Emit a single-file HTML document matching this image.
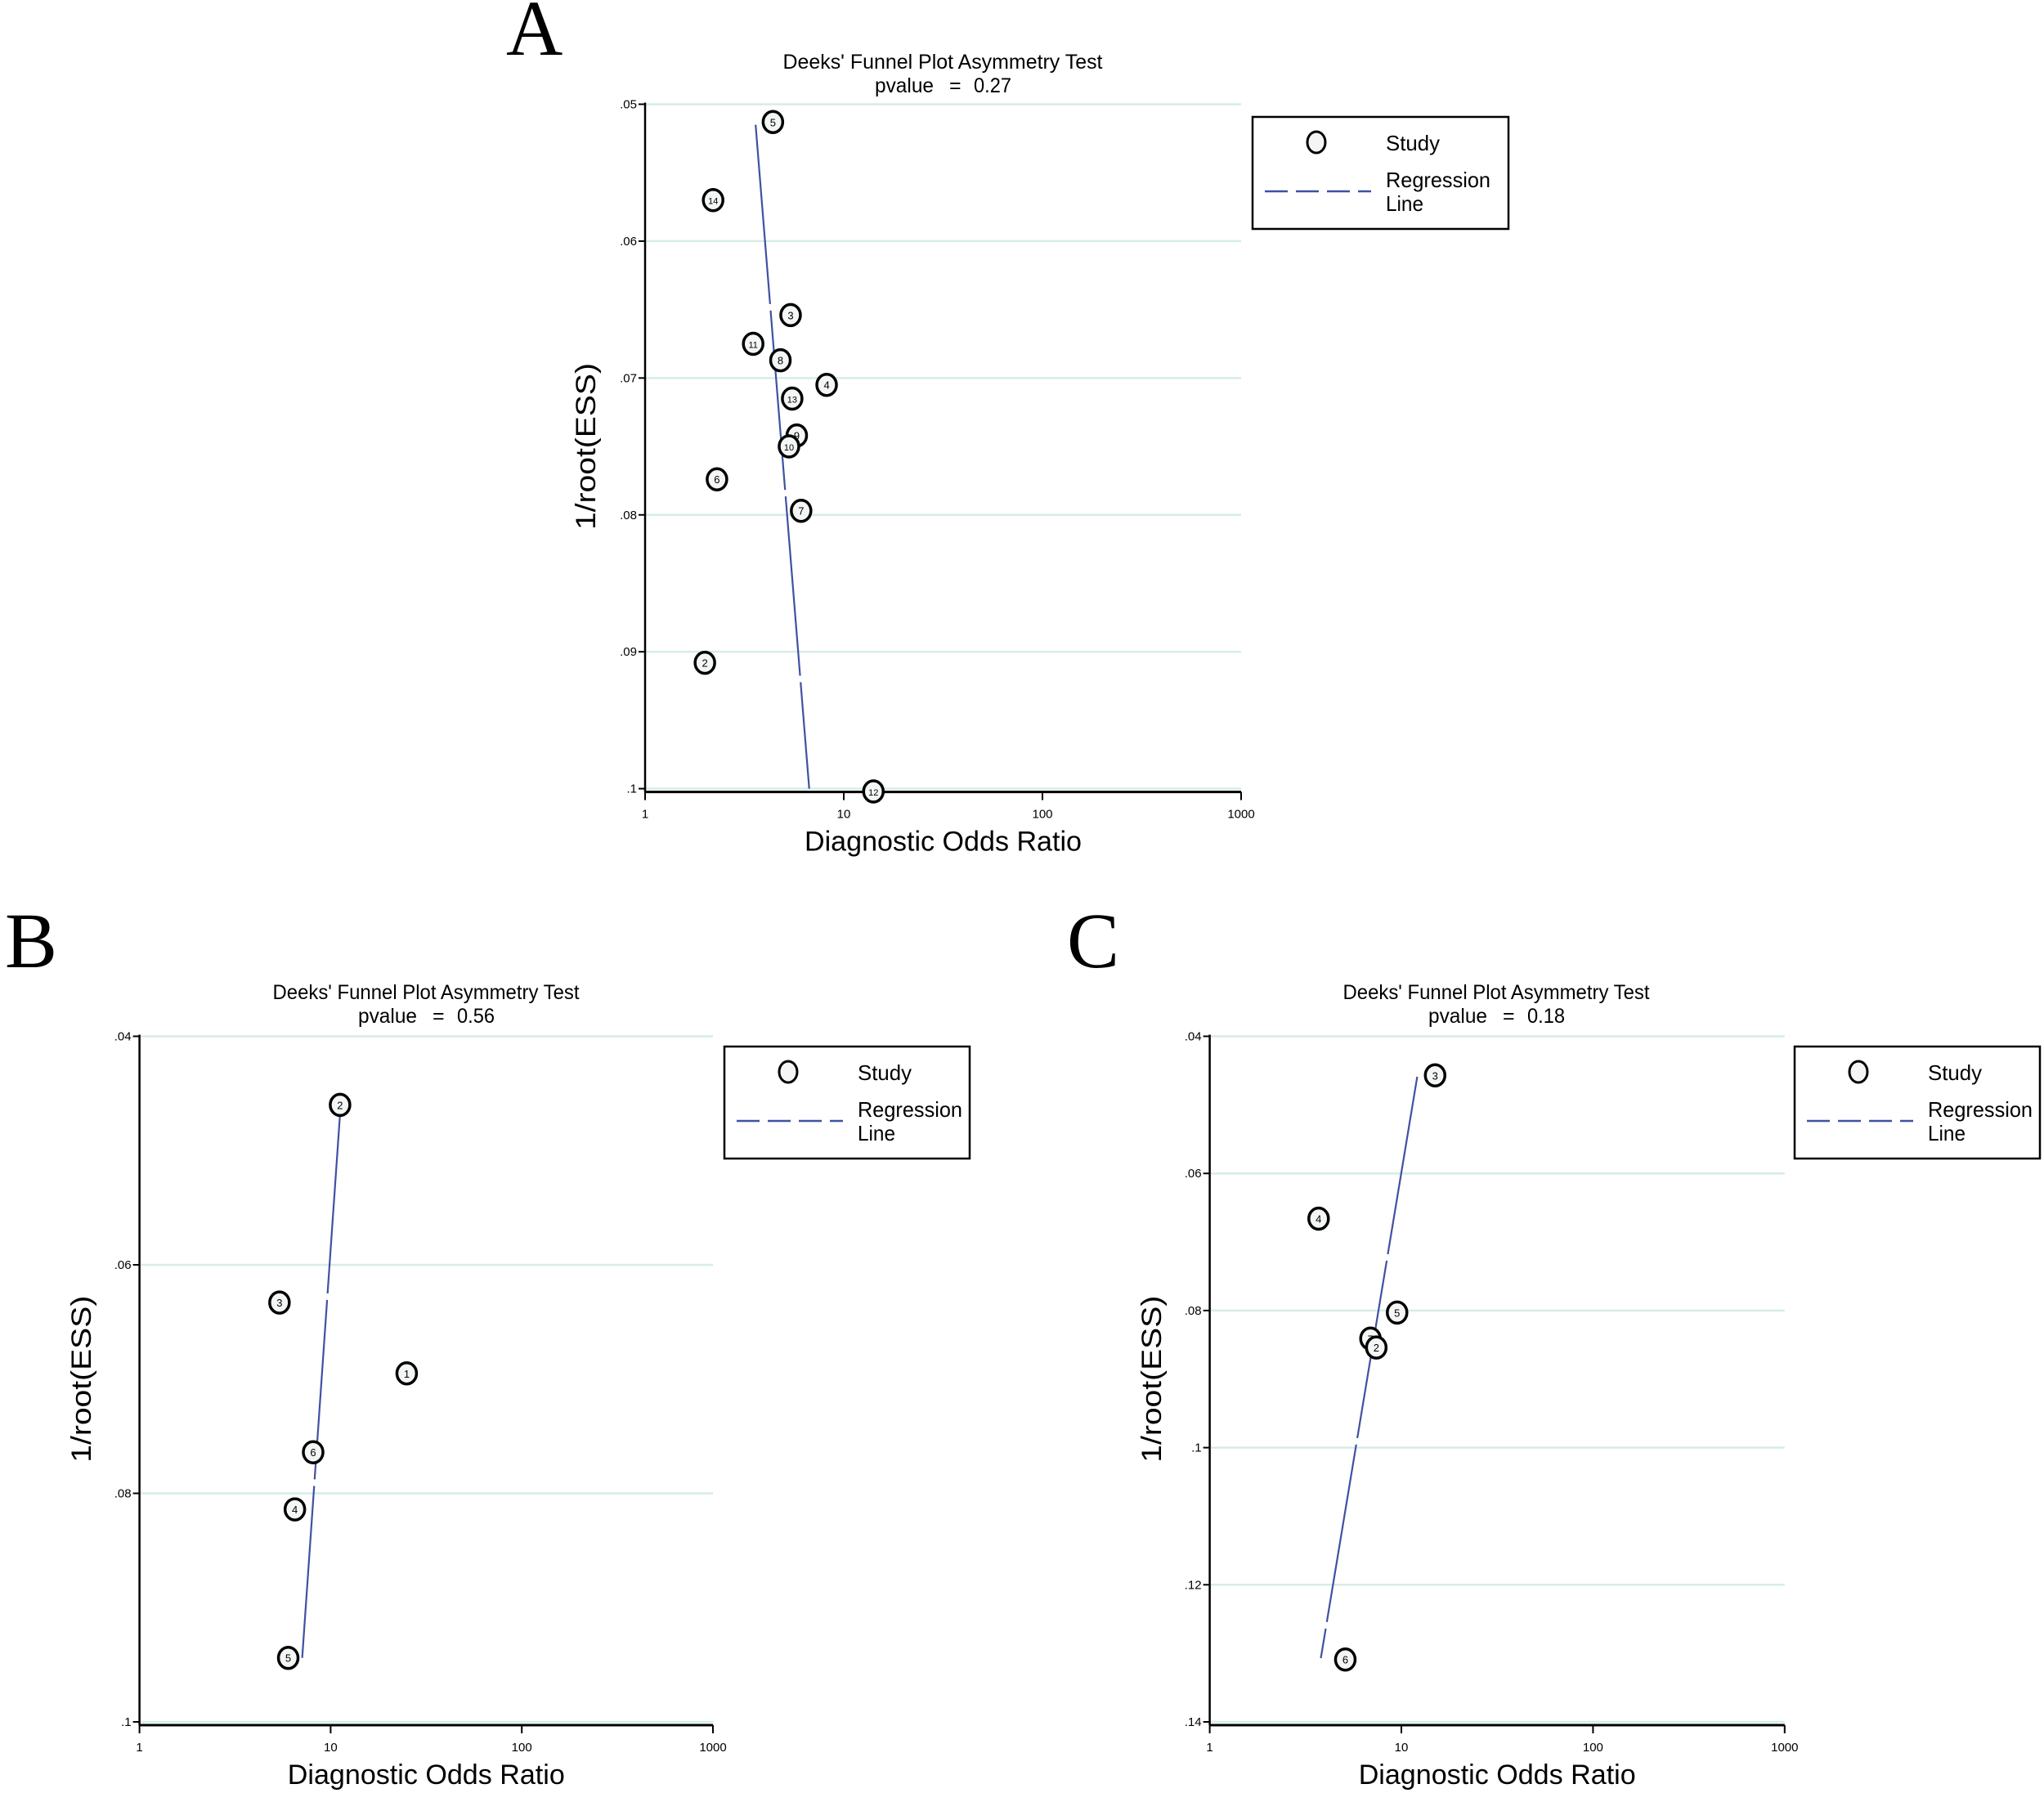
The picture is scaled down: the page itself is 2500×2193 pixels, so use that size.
<!DOCTYPE html>
<html><head><meta charset="utf-8"><style>
html,body{margin:0;padding:0;background:#fff;}
svg{display:block;}
text{font-family:"Liberation Sans",sans-serif;}
</style></head><body>
<svg id="fig" width="2500" height="2193" viewBox="0 0 2500 2193" xmlns="http://www.w3.org/2000/svg"></svg>
<script>
// Panel A data
const aLabels=["5","14","3","11","8","4","13","9","10","6","7","2","12"];
const aDOR=[4.4,2.2,5.4,3.5,4.8,8.2,5.5,5.8,5.3,2.3,6.1,2.0,14.1];
const aESS=[0.0513,0.0570,0.0654,0.0675,0.0687,0.0705,0.0715,0.0742,0.0750,0.0774,0.0797,0.0908,0.1002];
const aRegDOR=[3.6,6.7];
const aRegY=[0.0515,0.1];
const aYTicks=[0.05,0.06,0.07,0.08,0.09,0.1];
const aYTickLabels=[".05",".06",".07",".08",".09",".1"];
const aPvalue="0.27";
// Panel B data
const bLabels=["2","3","1","6","4","5"];
const bDOR=[11.2,5.4,25,8.1,6.5,6.0];
const bESS=[0.0460,0.0633,0.0695,0.0764,0.0814,0.0944];
const bRegDOR=[11.2,7.1];
const bRegY=[0.0468,0.0944];
const bYTicks=[0.04,0.06,0.08,0.1];
const bYTickLabels=[".04",".06",".08",".1"];
const bPvalue="0.56";
// Panel C data
const cLabels=["3","4","5","7","2","6"];
const cDOR=[15,3.7,9.5,6.9,7.4,5.1];
const cESS=[0.0457,0.0666,0.0803,0.0841,0.0854,0.1309];
const cRegDOR=[12.1,3.8];
const cRegY=[0.0459,0.1307];
const cYTicks=[0.04,0.06,0.08,0.1,0.12,0.14];
const cYTickLabels=[".04",".06",".08",".1",".12",".14"];
const cPvalue="0.18";
const xTicks=[1,10,100,1000];
const xTickLabels=["1","10","100","1000"];

const NS="http://www.w3.org/2000/svg";
const svg=document.getElementById('fig');
function mk(tag,attrs,parent,txt){const e=document.createElementNS(NS,tag);for(const k in attrs)e.setAttribute(k,attrs[k]);if(txt!==undefined)e.textContent=txt;(parent||svg).appendChild(e);return e;}

function panel(p){
  const g=mk('g',{});
  
  
  const xs=v=>p.x0+(Math.log10(v))*(p.x1-p.x0)/3;
  const ys=v=>p.py0+(v-p.v0)*(p.py1-p.py0)/(p.v1-p.v0);
  const L=mk('text',{x:p.letterX,y:p.letterY,'font-size':96,style:'font-family:"Liberation Serif",serif',fill:'#000'},g,p.letter);
  
  
  const t1=mk('text',{x:p.tcx,y:p.ty,'font-size':25,'text-anchor':'middle',textLength:p.tw,lengthAdjust:'spacingAndGlyphs'},g,"Deeks' Funnel Plot Asymmetry Test");
  
  
  const pg2=mk('g',{},g);
  
  
  mk('text',{x:p.tcx-83,y:p.ty+29,'font-size':25,textLength:72,lengthAdjust:'spacingAndGlyphs'},pg2,"pvalue");
  mk('text',{x:p.tcx+8,y:p.ty+29,'font-size':25},pg2,"=");
  mk('text',{x:p.tcx+38,y:p.ty+29,'font-size':25,textLength:46,lengthAdjust:'spacingAndGlyphs'},pg2,p.pval);
  p.yt.forEach((v,i)=>{
    const y=ys(v);
    const gl=mk('line',{x1:p.x0,x2:p.x1,y1:y,y2:y,stroke:'#d6ecea','stroke-width':2.5},g);
    
    
    mk('line',{x1:p.x0-8,x2:p.x0,y1:y,y2:y,stroke:'#000','stroke-width':2},g);
    const tl=mk('text',{x:p.x0-10,y:y+5,'font-size':15,'text-anchor':'end'},g,p.ytl[i]);
    
    
  });
  const axY=p.py1+4;
  const ya=mk('line',{x1:p.x0,x2:p.x0,y1:p.py0-2,y2:axY,stroke:'#000','stroke-width':2.5},g);
  
  
  const xa=mk('line',{x1:p.x0,x2:p.x1,y1:axY,y2:axY,stroke:'#000','stroke-width':3},g);
  
  
  xTicks.forEach((v,i)=>{
    const x=xs(v);
    mk('line',{x1:x,x2:x,y1:axY,y2:axY+10,stroke:'#000','stroke-width':2},g);
    const tl=mk('text',{x:x,y:axY+32,'font-size':15,'text-anchor':'middle'},g,xTickLabels[i]);
    
    
  });
  const xt=mk('text',{x:(p.x0+p.x1)/2,y:axY+72,'font-size':34,'text-anchor':'middle',textLength:339,lengthAdjust:'spacingAndGlyphs'},g,'Diagnostic Odds Ratio');
  
  
  const yc=(p.py0+p.py1)/2;
  const yt=mk('text',{x:p.ytx,y:yc,'font-size':34,'text-anchor':'middle',textLength:204,lengthAdjust:'spacingAndGlyphs',transform:'rotate(-90 '+p.ytx+' '+yc+')'},g,'1/root(ESS)');
  
  
  const rl=mk('line',{x1:xs(p.regD[0]),y1:ys(p.regY[0]),x2:xs(p.regD[1]),y2:ys(p.regY[1]),stroke:'#3f51a3','stroke-width':2.2,'stroke-dasharray':'220 8'},g);
  
  
  p.labels.forEach((lb,i)=>{
    const cx=xs(p.dor[i]),cy=ys(p.ess[i]);
    const pg=mk('g',{},g);
    
    
    mk('ellipse',{cx:cx,cy:cy,rx:12,ry:13,fill:'#f4f6f6',stroke:'#000','stroke-width':3.5},pg);
    mk('text',{x:cx,y:cy+5,'font-size':lb.length>1?11:13,'text-anchor':'middle'},pg,lb);
  });
  const lg=mk('g',{},g);
  
  
  const lx=p.lx,ly=p.ly;
  mk('rect',{x:lx,y:ly,width:p.lw,height:137,fill:'#fff',stroke:'#000','stroke-width':2.5},lg);
  mk('ellipse',{cx:lx+78,cy:ly+31,rx:11,ry:13,fill:'#f4f6f6',stroke:'#000','stroke-width':3},lg);
  const s=mk('text',{x:lx+163,y:ly+41,'font-size':26,textLength:66,lengthAdjust:'spacingAndGlyphs'},lg,'Study');
  
  
  mk('line',{x1:lx+15,x2:lx+145,y1:ly+91,y2:ly+91,stroke:'#3f51a3','stroke-width':2.5,'stroke-dasharray':'28 10'},lg);
  const r1=mk('text',{x:lx+163,y:ly+86,'font-size':26,textLength:128,lengthAdjust:'spacingAndGlyphs'},lg,'Regression');
  
  
  mk('text',{x:lx+163,y:ly+115,'font-size':26,textLength:46,lengthAdjust:'spacingAndGlyphs'},lg,'Line');
}

panel({id:'a',letter:'A',letterX:619,letterY:67,tcx:1153,ty:84,tw:391,pval:aPvalue,
  x0:789,x1:1518,v0:0.05,v1:0.1,py0:127.5,py1:964.6,yt:aYTicks,ytl:aYTickLabels,ytx:728,
  labels:aLabels,dor:aDOR,ess:aESS,regD:aRegDOR,regY:aRegY,lx:1532,ly:143,lw:313});
panel({id:'b',letter:'B',letterX:6,letterY:1183,tcx:521,ty:1222,tw:375,pval:bPvalue,
  x0:170.6,x1:872,v0:0.04,v1:0.1,py0:1267.5,py1:2106,yt:bYTicks,ytl:bYTickLabels,ytx:111,
  labels:bLabels,dor:bDOR,ess:bESS,regD:bRegDOR,regY:bRegY,lx:886,ly:1280,lw:300});
panel({id:'c',letter:'C',letterX:1305,letterY:1183,tcx:1830,ty:1222,tw:375,pval:cPvalue,
  x0:1479.6,x1:2182.8,v0:0.04,v1:0.14,py0:1267.5,py1:2106,yt:cYTicks,ytl:cYTickLabels,ytx:1420,
  labels:cLabels,dor:cDOR,ess:cESS,regD:cRegDOR,regY:cRegY,lx:2195,ly:1280,lw:300});
</script>
</body></html>
